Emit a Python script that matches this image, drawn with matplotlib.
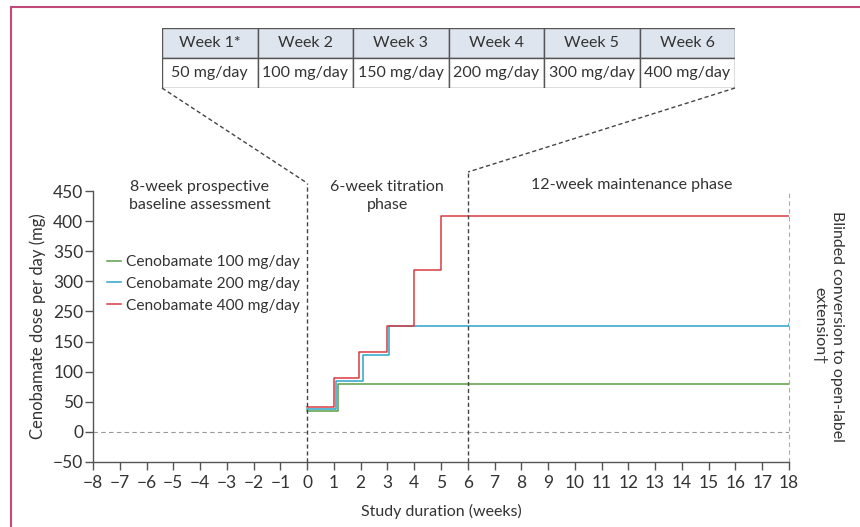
import matplotlib.pyplot as plt
from matplotlib.patches import Rectangle
from matplotlib.lines import Line2D

plt.rcParams['font.family'] = ['Lato', 'DejaVu Sans']

# titration table
weeks = ['Week 1*', 'Week 2', 'Week 3', 'Week 4', 'Week 5', 'Week 6']
doses = ['50 mg/day', '100 mg/day', '150 mg/day', '200 mg/day', '300 mg/day', '400 mg/day']

# step series (week where the dose level starts, plotted level)
green_x = [0, 1.15, 18]
green_y = [34, 80, 80]
blue_x = [0, 1.08, 2.08, 3.06, 16, 18]
blue_y = [38, 85, 128, 176.6, 176.6, 179]
red_x = [0, 1, 1.95, 2.98, 4.0, 4.99, 18]
red_y = [41, 89, 132, 176.6, 269, 359, 359]
series_names = ['Cenobamate 100 mg/day', 'Cenobamate 200 mg/day', 'Cenobamate 400 mg/day']

ytick_pos = [-50, 0, 50, 100, 150, 200, 250, 300, 350, 400]
ytick_lab = ['\u221250', '0', '50', '100', '150', '250', '300', '350', '400', '450']
xticks = list(range(-8, 19))

W, H = 860, 527
txt = '#333333'
green, blue, red = '#5a9e45', '#2ba3c9', '#d83a3f'

fig = plt.figure(figsize=(W / 100, H / 100), dpi=100)

def fx(px):
    return px / W

def fy(py):
    return 1 - py / H

ax = fig.add_axes([fx(93), fy(462), fx(789) - fx(93), fy(191) - fy(462)])
ax.set_xlim(-8, 18)
ax.set_ylim(-50, 400)

ax.plot(green_x, green_y, drawstyle='steps-post', color=green, lw=1.1, label=series_names[0])
ax.plot(blue_x, blue_y, drawstyle='steps-post', color=blue, lw=1.1, label=series_names[1])
ax.plot(red_x, red_y, drawstyle='steps-post', color=red, lw=1.1, label=series_names[2])

# zero line and phase separators
ax.plot([-8, 18], [0, 0], ls=(0, (4, 3)), color='#999999', lw=0.8)
ax.plot([0, 0], [-50, 414], ls=(0, (3, 2)), color='#444444', lw=1.0, clip_on=False)
ax.plot([6, 6], [-50, 432], ls=(0, (3, 2)), color='#444444', lw=1.0, clip_on=False)
ax.plot([18, 18], [-50, 402], ls=(0, (4, 3)), color='#aaaaaa', lw=0.8, clip_on=False)

for s in ['top', 'right']:
    ax.spines[s].set_visible(False)
for s in ['left', 'bottom']:
    ax.spines[s].set_color('#555555')
    ax.spines[s].set_linewidth(1.0)

ax.set_yticks(ytick_pos)
ax.set_yticklabels(ytick_lab)
ax.set_xticks(xticks)
ax.set_xticklabels([str(v).replace('-', '\u2212') for v in xticks])
ax.tick_params(colors='#555555', labelcolor=txt, labelsize=12.5, length=6, width=1.0)
ax.tick_params(axis='x', pad=3)
ax.tick_params(axis='y', pad=1)

ax.set_ylabel('Cenobamate dose per day (mg)', fontsize=12, color=txt, labelpad=5)
ax.set_xlabel('Study duration (weeks)', fontsize=11.5, color=txt, labelpad=10)

ax.legend(loc='upper left', bbox_to_anchor=(fx(107), fy(255)), bbox_transform=fig.transFigure,
          frameon=False, fontsize=11.2, handlelength=0.9, handletextpad=0.3,
          labelspacing=0.5, labelcolor=txt, borderaxespad=0, borderpad=0)

# phase labels
fig.text(fx(200), fy(196), '8-week prospective\nbaseline assessment', ha='center', va='center',
         fontsize=11.5, color=txt, linespacing=1.45)
fig.text(fx(387), fy(196), '6-week titration\nphase', ha='center', va='center',
         fontsize=11.5, color=txt, linespacing=1.45)
fig.text(fx(632), fy(185), '12-week maintenance phase', ha='center', va='center',
         fontsize=11.5, color=txt)
fig.text(fx(828), fy(326), 'Blinded conversion to open-label\nextension\u2020', ha='center', va='center',
         rotation=-90, fontsize=11.5, color=txt, multialignment='center', linespacing=1.35)

# titration table
tab = fig.add_axes([fx(162), fy(88), fx(735) - fx(162), fy(28) - fy(88)])
tab.set_xlim(0, len(weeks))
tab.set_ylim(0, 2)
tab.axis('off')
for i, (wk, d) in enumerate(zip(weeks, doses)):
    tab.add_patch(Rectangle((i, 1), 1, 1, facecolor='#dfe5ef', edgecolor='#555555', lw=1.0))
    tab.add_patch(Rectangle((i, 0), 1, 1, facecolor='white', edgecolor='#555555', lw=1.0))
    tab.text(i + 0.5, 1.5, wk, ha='center', va='center', fontsize=11.5, color=txt)
    tab.text(i + 0.5, 0.5, d, ha='center', va='center', fontsize=11.5, color=txt)

# connectors from table to phase lines
fig.add_artist(Line2D([fx(162), fx(307)], [fy(88), fy(183)], transform=fig.transFigure,
                      ls=(0, (3, 2)), color='#444444', lw=1.0))
fig.add_artist(Line2D([fx(735), fx(468)], [fy(88), fy(172)], transform=fig.transFigure,
                      ls=(0, (3, 2)), color='#444444', lw=1.0))

# page frame
fig.add_artist(Line2D([fx(11), fx(11)], [fy(7), 0], transform=fig.transFigure, color='#c04a7c', lw=1.5))
fig.add_artist(Line2D([fx(11), 1], [fy(7), fy(7)], transform=fig.transFigure, color='#c04a7c', lw=1.5))

fig.savefig('out.png', dpi=100)
